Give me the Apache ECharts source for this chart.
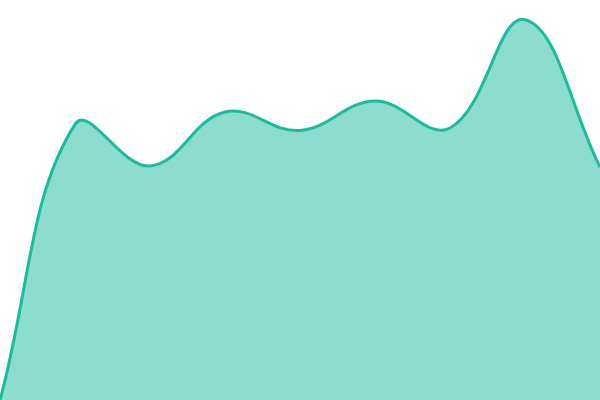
<!DOCTYPE html>
<html><head><meta charset="utf-8">
<script src="https://cdn.jsdelivr.net/npm/echarts@6/dist/echarts.min.js"></script>
<style>html,body{margin:0;padding:0;background:#fff}#c{width:600px;height:400px}</style>
</head><body><div id="c"></div>
<script>
const categories = ['1', '2', '3', '4', '5', '6', '7', '8', '9'];
const values = [0, 68.9, 58.5, 72, 67.4, 74.75, 68, 95.1, 58.25];
const tension = 0.4;

function splinePath(pts) {
  const n = pts.length;
  const cps = pts.map((p, i) => {
    const prev = pts[Math.max(0, i - 1)];
    const next = pts[Math.min(n - 1, i + 1)];
    const d01 = Math.hypot(p[0] - prev[0], p[1] - prev[1]);
    const d12 = Math.hypot(next[0] - p[0], next[1] - p[1]);
    const s01 = (d01 + d12) ? d01 / (d01 + d12) : 0;
    const s12 = (d01 + d12) ? d12 / (d01 + d12) : 0;
    const fa = tension * s01, fb = tension * s12;
    return {
      prev: [p[0] - fa * (next[0] - prev[0]), p[1] - fa * (next[1] - prev[1])],
      next: [p[0] + fb * (next[0] - prev[0]), p[1] + fb * (next[1] - prev[1])]
    };
  });
  let d = 'M' + pts[0][0] + ' ' + pts[0][1];
  for (let i = 1; i < n; i++) {
    const a = cps[i - 1].next, b = cps[i].prev, p = pts[i];
    d += ' C' + a[0] + ' ' + a[1] + ' ' + b[0] + ' ' + b[1] + ' ' + p[0] + ' ' + p[1];
  }
  return d;
}

const chart = echarts.init(document.getElementById('c'));
chart.setOption({
  animation: false,
  grid: {left: 0, right: 0, top: 0, bottom: 0},
  xAxis: {type: 'category', data: categories, boundaryGap: false, show: false},
  yAxis: {type: 'value', min: 0, max: 100, show: false},
  series: [{
    type: 'custom',
    data: values.map((v, i) => [i, v]),
    encode: {x: 0, y: 1},
    renderItem: function (params, api) {
      if (params.dataIndex !== 0) return null;
      const pts = values.map((v, i) => api.coord([i, v]));
      const base = api.coord([0, 0])[1];
      const line = splinePath(pts);
      const area = line + ' L' + pts[pts.length - 1][0] + ' ' + base + ' L' + pts[0][0] + ' ' + base + ' Z';
      return {
        type: 'group',
        children: [
          {type: 'path', shape: {pathData: area}, style: {fill: 'rgba(26,188,156,0.5)', stroke: null}},
          {type: 'path', shape: {pathData: line}, style: {fill: 'none', stroke: '#1abc9c', lineWidth: 3}}
        ]
      };
    }
  }]
});
</script></body></html>
